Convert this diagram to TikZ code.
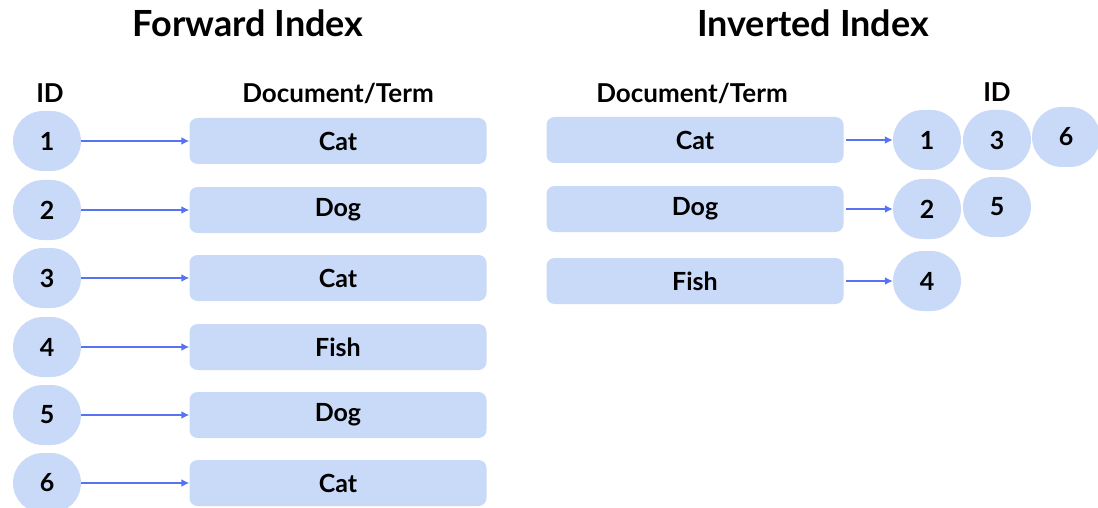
\documentclass[tikz,border=0pt]{standalone}
\usepackage{fontspec}
\setmainfont{Lato}
\usetikzlibrary{arrows.meta}
\definecolor{boxblue}{HTML}{C9DAF8}
\definecolor{arrowblue}{HTML}{5872F5}
\tikzset{
	idbox/.style={fill=boxblue, rounded corners=30pt, minimum width=68pt, minimum height=60pt, inner sep=0pt, font=\fontsize{25}{28}\selectfont\bfseries},
	termbox/.style={fill=boxblue, rounded corners=8pt, minimum width=297pt, minimum height=46pt, inner sep=0pt, font=\fontsize{25}{28}\selectfont\bfseries},
	head/.style={font=\fontsize{26}{30}\selectfont\bfseries},
	title/.style={font=\fontsize{36}{40}\selectfont\bfseries},
	link/.style={arrowblue, line width=2pt, -{Latex[length=8pt,width=8pt]}}
}
\begin{document}
\begin{tikzpicture}[x=1pt,y=-1pt]
	\useasboundingbox (0,0) rectangle (1098,508);
	% titles
	\node[title] (fwdtitle) at (248,23) {Forward Index};
	\node[title] (invtitle) at (813,23) {Inverted Index};
	% forward index
	\node[head] (fwdid) at (50,93) {ID};
	\node[head] (fwddoc) at (338,93) {Document/Term};
	\node[idbox] (f1) at (47,141) {1};
	\node[idbox] (f2) at (47,210) {2};
	\node[idbox] (f3) at (47,278) {3};
	\node[idbox] (f4) at (47,347) {4};
	\node[idbox] (f5) at (47,415) {5};
	\node[idbox] (f6) at (47,483) {6};
	\node[termbox] (t1) at (338,141) {Cat};
	\node[termbox] (t2) at (338,210) {Dog};
	\node[termbox] (t3) at (338,278) {Cat};
	\node[termbox] (t4) at (338,347) {Fish};
	\node[termbox] (t5) at (338,415) {Dog};
	\node[termbox] (t6) at (338,483) {Cat};
	\draw[link] (f1) -- (t1);
	\draw[link] (f2) -- (t2);
	\draw[link] (f3) -- (t3);
	\draw[link] (f4) -- (t4);
	\draw[link] (f5) -- (t5);
	\draw[link] (f6) -- (t6);
	% inverted index
	\node[head] (invdoc) at (692,93) {Document/Term};
	\node[head] (invid) at (997,92) {ID};
	\node[termbox] (cat) at (695,140) {Cat};
	\node[termbox] (dog) at (695,209) {Dog};
	\node[termbox] (fish) at (695,281) {Fish};
	\node[idbox] (c1) at (927,140) {1};
	\node[idbox] (c3) at (997,140) {3};
	\node[idbox] (c6) at (1066,137) {6};
	\node[idbox] (d2) at (927,209) {2};
	\node[idbox] (d5) at (997,207) {5};
	\node[idbox] (h4) at (927,281) {4};
	\draw[link] ([xshift=2pt]cat.east) -- (c1);
	\draw[link] ([xshift=2pt]dog.east) -- (d2);
	\draw[link] ([xshift=2pt]fish.east) -- (h4);
\end{tikzpicture}
\end{document}
